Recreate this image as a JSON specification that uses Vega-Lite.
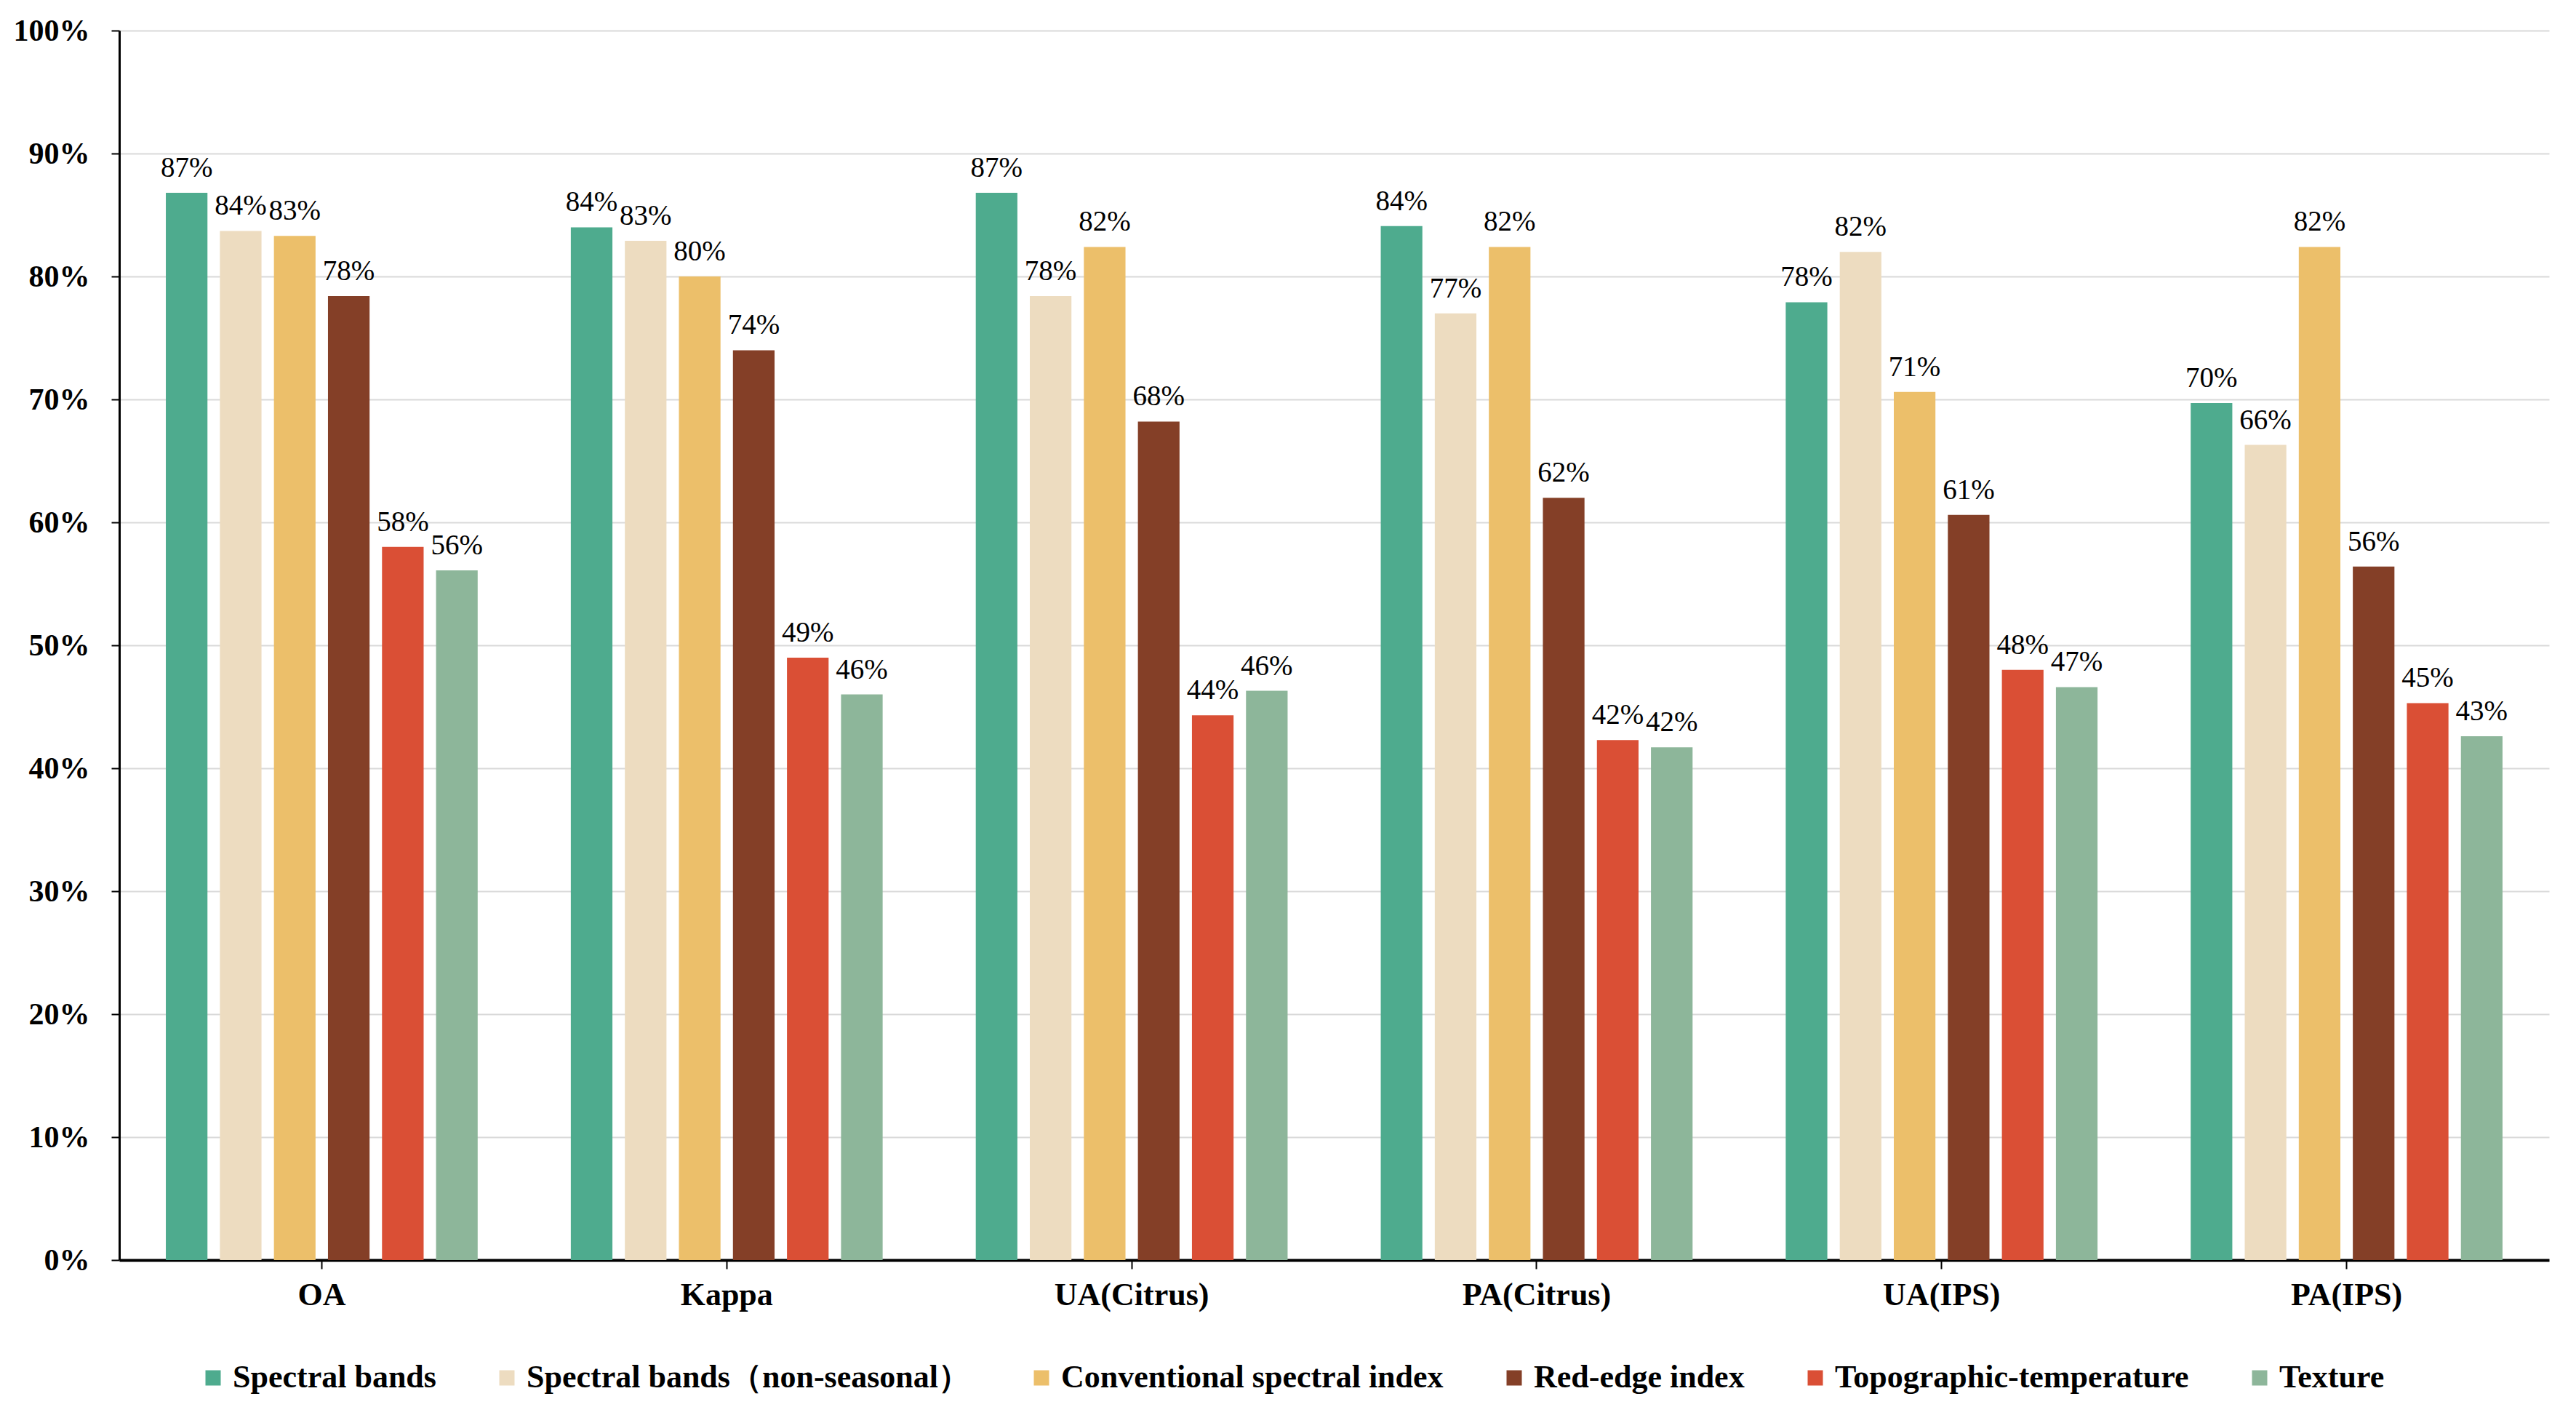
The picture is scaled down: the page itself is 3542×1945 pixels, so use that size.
{
  "$schema": "https://vega.github.io/schema/vega-lite/v6.json",
  "autosize": {"type": "none"},
  "padding": {"left": 164, "top": 42, "right": 37, "bottom": 213},
  "width": 3341,
  "height": 1690,
  "background": "white",
  "config": {"view": {"stroke": null}, "font": "Liberation Serif"},
  "data": {
    "values": [
      {"metric": "OA", "group": "Spectral bands", "value": 0.868},
      {"metric": "OA", "group": "Spectral bands（non-seasonal）", "value": 0.837},
      {"metric": "OA", "group": "Conventional spectral index", "value": 0.833},
      {"metric": "OA", "group": "Red-edge index", "value": 0.784},
      {"metric": "OA", "group": "Topographic-temperature", "value": 0.580},
      {"metric": "OA", "group": "Texture", "value": 0.561},
      {"metric": "Kappa", "group": "Spectral bands", "value": 0.840},
      {"metric": "Kappa", "group": "Spectral bands（non-seasonal）", "value": 0.829},
      {"metric": "Kappa", "group": "Conventional spectral index", "value": 0.800},
      {"metric": "Kappa", "group": "Red-edge index", "value": 0.740},
      {"metric": "Kappa", "group": "Topographic-temperature", "value": 0.490},
      {"metric": "Kappa", "group": "Texture", "value": 0.460},
      {"metric": "UA(Citrus)", "group": "Spectral bands", "value": 0.868},
      {"metric": "UA(Citrus)", "group": "Spectral bands（non-seasonal）", "value": 0.784},
      {"metric": "UA(Citrus)", "group": "Conventional spectral index", "value": 0.824},
      {"metric": "UA(Citrus)", "group": "Red-edge index", "value": 0.682},
      {"metric": "UA(Citrus)", "group": "Topographic-temperature", "value": 0.443},
      {"metric": "UA(Citrus)", "group": "Texture", "value": 0.463},
      {"metric": "PA(Citrus)", "group": "Spectral bands", "value": 0.841},
      {"metric": "PA(Citrus)", "group": "Spectral bands（non-seasonal）", "value": 0.770},
      {"metric": "PA(Citrus)", "group": "Conventional spectral index", "value": 0.824},
      {"metric": "PA(Citrus)", "group": "Red-edge index", "value": 0.620},
      {"metric": "PA(Citrus)", "group": "Topographic-temperature", "value": 0.423},
      {"metric": "PA(Citrus)", "group": "Texture", "value": 0.417},
      {"metric": "UA(IPS)", "group": "Spectral bands", "value": 0.779},
      {"metric": "UA(IPS)", "group": "Spectral bands（non-seasonal）", "value": 0.820},
      {"metric": "UA(IPS)", "group": "Conventional spectral index", "value": 0.706},
      {"metric": "UA(IPS)", "group": "Red-edge index", "value": 0.606},
      {"metric": "UA(IPS)", "group": "Topographic-temperature", "value": 0.480},
      {"metric": "UA(IPS)", "group": "Texture", "value": 0.466},
      {"metric": "PA(IPS)", "group": "Spectral bands", "value": 0.697},
      {"metric": "PA(IPS)", "group": "Spectral bands（non-seasonal）", "value": 0.663},
      {"metric": "PA(IPS)", "group": "Conventional spectral index", "value": 0.824},
      {"metric": "PA(IPS)", "group": "Red-edge index", "value": 0.564},
      {"metric": "PA(IPS)", "group": "Topographic-temperature", "value": 0.453},
      {"metric": "PA(IPS)", "group": "Texture", "value": 0.426}
    ]
  },
  "encoding": {
    "x": {
      "field": "metric",
      "type": "nominal",
      "sort": ["OA", "Kappa", "UA(Citrus)", "PA(Citrus)", "UA(IPS)", "PA(IPS)"],
      "scale": {"paddingInner": 0.23, "paddingOuter": 0.115},
      "axis": {
        "title": null,
        "labelAngle": 0,
        "labelLimit": 2000,
        "labelFont": "Liberation Serif",
        "labelFontSize": 44,
        "labelFontWeight": "bold",
        "labelColor": "black",
        "labelPadding": 14,
        "domainColor": "black",
        "domainWidth": 4,
        "tickColor": "black",
        "tickWidth": 2,
        "tickSize": 12,
        "grid": false
      }
    },
    "xOffset": {
      "field": "group",
      "type": "nominal",
      "sort": ["Spectral bands", "Spectral bands（non-seasonal）", "Conventional spectral index", "Red-edge index", "Topographic-temperature", "Texture"],
      "scale": {"paddingInner": 0.23, "paddingOuter": 0}
    },
    "y": {
      "field": "value",
      "type": "quantitative",
      "scale": {"domain": [0, 1], "nice": false},
      "axis": {
        "title": null,
        "values": [0, 0.1, 0.2, 0.3, 0.4, 0.5, 0.6, 0.7, 0.8, 0.9, 1.0],
        "format": ".0%",
        "labelFont": "Liberation Serif",
        "labelFontSize": 42,
        "labelFontWeight": "bold",
        "labelColor": "black",
        "labelPadding": 30,
        "domainColor": "black",
        "domainWidth": 3,
        "tickColor": "black",
        "tickWidth": 2,
        "tickSize": 11,
        "grid": true,
        "gridColor": "#d9d9d9",
        "gridWidth": 2
      }
    }
  },
  "layer": [
    {
      "mark": {"type": "bar"},
      "encoding": {
        "color": {
          "field": "group",
          "type": "nominal",
          "sort": ["Spectral bands", "Spectral bands（non-seasonal）", "Conventional spectral index", "Red-edge index", "Topographic-temperature", "Texture"],
          "scale": {
            "domain": ["Spectral bands", "Spectral bands（non-seasonal）", "Conventional spectral index", "Red-edge index", "Topographic-temperature", "Texture"],
            "range": ["#4eab8e", "#eddcc0", "#ecbf6a", "#843f27", "#da4f35", "#8db69a"]
          },
          "legend": {
            "title": null,
            "orient": "none",
            "legendX": 107,
            "legendY": 1830,
            "direction": "horizontal",
            "symbolType": "square",
            "symbolSize": 441,
            "symbolStrokeWidth": 0,
            "labelFont": "Liberation Serif",
            "labelFontSize": 44,
            "labelFontWeight": "bold",
            "labelColor": "black",
            "labelLimit": 2000,
            "labelOffset": 5,
            "columnPadding": 75,
            "padding": 0
          }
        }
      }
    },
    {
      "mark": {"type": "text", "baseline": "alphabetic", "dy": -22, "fontSize": 39, "font": "Liberation Serif", "color": "black"},
      "encoding": {
        "text": {"field": "value", "type": "quantitative", "format": ".0%"}
      }
    }
  ]
}
